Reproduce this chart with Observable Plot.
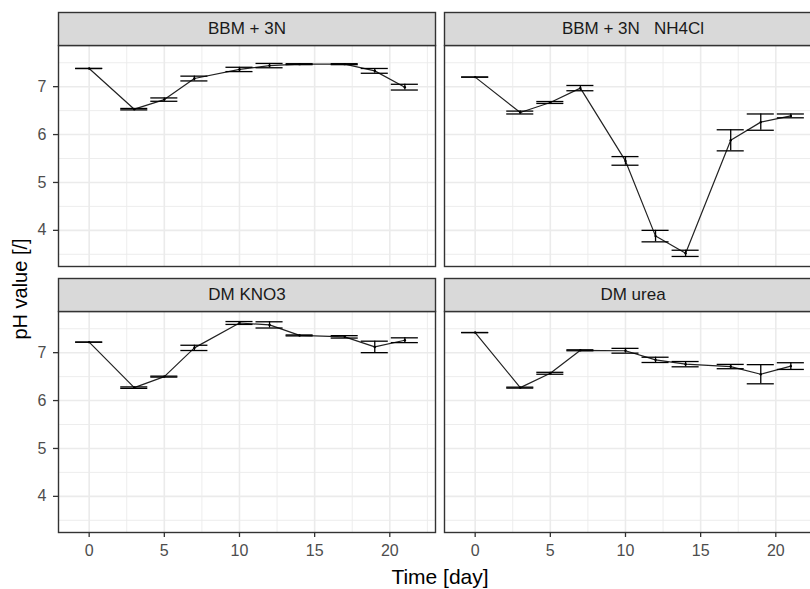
<!DOCTYPE html>
<html>
<head>
<meta charset="utf-8">
<script src="https://cdn.jsdelivr.net/npm/d3@7"></script>
<script src="https://cdn.jsdelivr.net/npm/@observablehq/plot@0.6"></script>
<style>
html, body { margin: 0; padding: 0; background: #fff; overflow: hidden; }
#wrap { width: 810px; height: 589px; overflow: hidden; }
</style>
</head>
<body>
<div id="wrap"></div>
<script>
// ---- data ----
const days = [0, 3, 5, 7, 10, 12, 14, 17, 19, 21];
const panelNames = ["BBM + 3N", "BBM + 3N\u00a0\u00a0\u00a0NH4Cl", "DM KNO3", "DM urea"];
const panelCols = [0, 1, 0, 1];
const panelRows = [0, 0, 1, 1];

const meanBBM   = [7.38, 6.53, 6.73, 7.17, 7.36, 7.44, 7.47, 7.47, 7.33, 6.99];
const errBBM    = [0.00, 0.015, 0.035, 0.05, 0.045, 0.045, 0.01, 0.01, 0.05, 0.06];
const meanNH4Cl = [7.20, 6.46, 6.67, 6.97, 5.45, 3.88, 3.52, 5.88, 6.26, 6.39];
const errNH4Cl  = [0.00, 0.03, 0.02, 0.055, 0.09, 0.12, 0.065, 0.22, 0.17, 0.04];
const meanKNO3  = [7.22, 6.27, 6.50, 7.10, 7.62, 7.58, 7.36, 7.33, 7.12, 7.26];
const errKNO3   = [0.00, 0.015, 0.01, 0.055, 0.03, 0.065, 0.01, 0.025, 0.12, 0.05];
const meanUrea  = [7.42, 6.27, 6.57, 7.05, 7.04, 6.85, 6.76, 6.71, 6.55, 6.72];
const errUrea   = [0.00, 0.01, 0.02, 0.01, 0.05, 0.055, 0.055, 0.045, 0.2, 0.07];

const xTicks = [0, 5, 10, 15, 20];
const yTicks = [4, 5, 6, 7];

// ---- build tables ----
const seriesMeans = [meanBBM, meanNH4Cl, meanKNO3, meanUrea];
const seriesErrs = [errBBM, errNH4Cl, errKNO3, errUrea];
const panels = panelNames.map((name, i) => ({name, col: panelCols[i], row: panelRows[i]}));
const rows = [];
panels.forEach((p, i) => {
  days.forEach((d, j) => {
    const m = seriesMeans[i][j], e = seriesErrs[i][j];
    rows.push({panel: p.name, col: p.col, row: p.row, day: d, mean: m, lo: m - e, hi: m + e});
  });
});

// ggplot-like errorbar width and 5% scale expansion
const capHalf = 0.9;
const xr = [d3.min(rows, r => r.day) - capHalf, d3.max(rows, r => r.day) + capHalf];
const yr = [d3.min(rows, r => r.lo), d3.max(rows, r => r.hi)];
const xPad = (xr[1] - xr[0]) * 0.05, yPad = (yr[1] - yr[0]) * 0.05;
const xDomain = [xr[0] - xPad, xr[1] + xPad];
const yDomain = [yr[0] - yPad, yr[1] + yPad];
const minorX = d3.range(-2.5, 25, 5).filter(v => v > xDomain[0] && v < xDomain[1]);
const minorY = d3.range(3.5, 8, 1).filter(v => v > yDomain[0] && v < yDomain[1]);

// ---- layout ----
const W = 821, H = 589;
const mL = 58, mT = 45, mB = 57, mR = 0;
const panelH = 221;
const stripH = 33;
const font = "'Liberation Sans', Arial, sans-serif";

const chart = Plot.plot({
  width: W,
  height: H,
  marginLeft: mL, marginTop: mT, marginBottom: mB, marginRight: mR,
  style: {fontFamily: font, background: "#fff", maxWidth: "none", overflow: "visible"},
  fx: {axis: null, paddingInner: 9 / 386, paddingOuter: 0, domain: [0, 1]},
  fy: {axis: null, paddingInner: 45 / 266, paddingOuter: 0, domain: [0, 1]},
  x: {domain: xDomain},
  y: {domain: yDomain},
  marks: [
    Plot.gridX(minorX, {stroke: "#ebebeb", strokeOpacity: 1, strokeWidth: 0.9}),
    Plot.gridY(minorY, {stroke: "#ebebeb", strokeOpacity: 1, strokeWidth: 0.9}),
    Plot.gridX(xTicks, {stroke: "#ebebeb", strokeOpacity: 1, strokeWidth: 1.6}),
    Plot.gridY(yTicks, {stroke: "#ebebeb", strokeOpacity: 1, strokeWidth: 1.6}),
    Plot.line(rows, {fx: "col", fy: "row", x: "day", y: "mean", stroke: "#222", strokeWidth: 1.2}),
    Plot.ruleX(rows, {fx: "col", fy: "row", x: "day", y1: "lo", y2: "hi", stroke: "#000", strokeWidth: 1.3}),
    Plot.ruleY(rows, {fx: "col", fy: "row", y: "lo", x1: r => r.day - capHalf, x2: r => r.day + capHalf, stroke: "#000", strokeWidth: 1.3}),
    Plot.ruleY(rows, {fx: "col", fy: "row", y: "hi", x1: r => r.day - capHalf, x2: r => r.day + capHalf, stroke: "#000", strokeWidth: 1.3}),
    Plot.dot(rows, {fx: "col", fy: "row", x: "day", y: "mean", r: 1.2, fill: "#000"}),
    Plot.frame({stroke: "#333", strokeWidth: 1.4}),
    Plot.frame({fill: "#d9d9d9", stroke: "#333", strokeWidth: 1.4, insetTop: -stripH, insetBottom: panelH}),
    Plot.text(panels, {fx: "col", fy: "row", text: "name", frameAnchor: "top", lineAnchor: "middle", dy: -16.5, fontSize: 17, fill: "#1a1a1a"}),
    Plot.axisX(xTicks, {tickSize: 5, tickPadding: 7, fontSize: 16, stroke: "#333", strokeWidth: 1.3, fill: "#4d4d4d", label: null}),
    Plot.axisY(yTicks, {tickSize: 5, tickPadding: 7, fontSize: 16, stroke: "#333", strokeWidth: 1.3, fill: "#4d4d4d", label: null}),
    Plot.axisX([], {tickSize: 0, label: "Time [day]", labelAnchor: "center", labelArrow: "none", labelOffset: 51, fontSize: 21, fill: "#000"}),
    Plot.axisY([], {tickSize: 0, label: "pH value [/]", labelAnchor: "center", labelArrow: "none", labelOffset: 46, fontSize: 20, fill: "#000"})
  ]
});
document.getElementById("wrap").appendChild(chart);
</script>
</body>
</html>
